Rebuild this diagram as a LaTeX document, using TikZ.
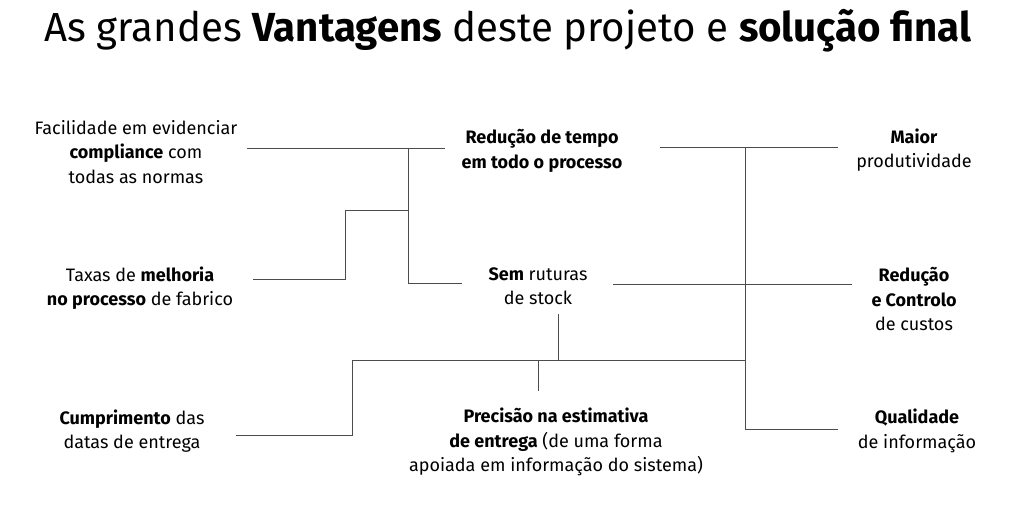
\documentclass[tikz,border=0pt]{standalone}
\usepackage{fontspec}
\setmainfont{Fira Sans}
\newfontfamily\titlefont{Fira Sans}

\begin{document}
\begin{tikzpicture}[x=1pt,y=-1pt,
    txt/.style={align=center,inner sep=0pt,font=\fontsize{18}{24.5}\selectfont},
    ln/.style={draw=black!70,line width=0.9pt}]
  \useasboundingbox (0,0) rectangle (1024,523);
  % title
  \node[inner sep=0pt,anchor=base] (title) at (508,41)
    {\titlefont\fontsize{40.6}{44}\selectfont\scalebox{0.99}[1]{As grandes \textbf{Vantagens} deste projeto e \textbf{solução final}}};

  % left column
  \node[txt] (facil) at (136,152) {Facilidade em evidenciar\\\textbf{compliance} com\\todas as normas};
  \node[txt] (taxas) at (140,288) {Taxas de \textbf{melhoria}\\\textbf{no processo} de fabrico};
  \node[txt] (cumpr) at (132,431) {\textbf{Cumprimento} das\\datas de entrega};
  % middle column
  \node[txt] (tempo) at (542,151) {\textbf{Redução de tempo}\\\textbf{em todo o processo}};
  \node[txt] (sem) at (538,286) {\textbf{Sem} ruturas\\de stock};
  \node[txt] (precisao) at (556,442) {\textbf{Precisão na estimativa}\\\textbf{de entrega} (de uma forma\\apoiada em informação do sistema)};
  % right column
  \node[txt] (maior) at (914,150) {\textbf{Maior}\\produtividade};
  \node[txt] (custos) at (914,299) {\textbf{Redução}\\\textbf{e Controlo}\\de custos};
  \node[txt] (qualid) at (917,431) {\textbf{Qualidade}\\de informação};

  % left tree
  \coordinate (fa) at (247,148);
  \coordinate (fb) at (445,148);
  \coordinate (j1) at (408,148);
  \coordinate (j2) at (408,210);
  \coordinate (j3) at (408,283);
  \coordinate (sa) at (462,283);
  \coordinate (ta) at (253,279);
  \coordinate (tb) at (345,279);
  \coordinate (tc) at (345,210);
  \draw[ln] (fa) -- (fb);
  \draw[ln] (j1) -- (j3) -- (sa);
  \draw[ln] (ta) -- (tb) -- (tc) -- (j2);

  % right tree
  \coordinate (ma) at (660,147);
  \coordinate (mb) at (838,147);
  \coordinate (k1) at (745,147);
  \coordinate (k3) at (745,360);
  \coordinate (k4) at (745,429);
  \coordinate (qa) at (838,429);
  \coordinate (ra) at (613,284);
  \coordinate (rb) at (852,284);
  \draw[ln] (ma) -- (mb);
  \draw[ln] (k1) -- (k4) -- (qa);
  \draw[ln] (ra) -- (rb);

  % bottom tree
  \coordinate (sb) at (558,314);
  \coordinate (sc) at (558,360);
  \coordinate (c1) at (352,360);
  \coordinate (c2) at (352,435);
  \coordinate (ca) at (236,435);
  \coordinate (p1) at (538,360);
  \coordinate (p2) at (538,391);
  \draw[ln] (sb) -- (sc);
  \draw[ln] (k3) -- (c1) -- (c2) -- (ca);
  \draw[ln] (p1) -- (p2);
\end{tikzpicture}
\end{document}
